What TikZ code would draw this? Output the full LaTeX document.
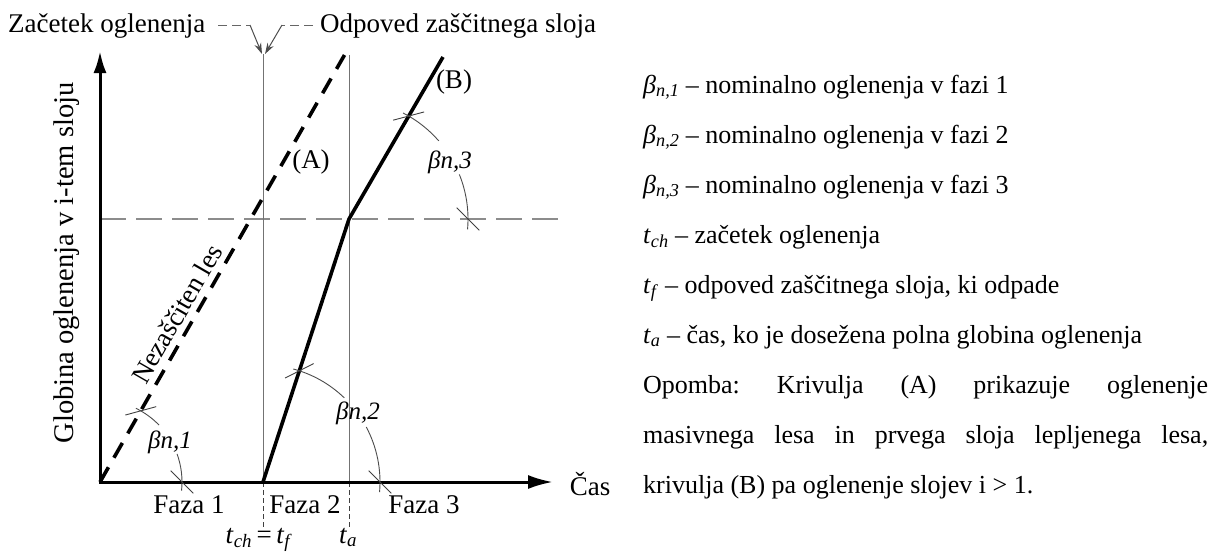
\documentclass[tikz,border=0pt]{standalone}
\usepackage{fontspec}
\setmainfont{Liberation Serif}
\usetikzlibrary{arrows.meta}
\frenchspacing
\newcommand{\tickat}[2]{\draw[tk] ([shift={(#2:16)}]#1) -- ([shift={(#2+180:16)}]#1);}
\begin{document}
\begin{tikzpicture}[x=1pt,y=-1pt,
  lbl/.style={font=\fontsize{27}{32}\selectfont, inner sep=0pt},
  ylbl/.style={font=\fontsize{28.5}{33}\selectfont, inner sep=0pt},
  albl/.style={font=\fontsize{25}{30}\selectfont\itshape, inner sep=1pt},
  leg/.style={font=\fontsize{26}{31}\selectfont, inner sep=0pt},
  axisline/.style={line width=3pt, black},
  bline/.style={line width=3.6pt, black, line join=round},
  aline/.style={line width=3.6pt, black, dash pattern=on 17pt off 11pt},
  thinl/.style={line width=1pt, black!55},
  hdash/.style={line width=1.3pt, black!45, dash pattern=on 26pt off 10pt},
  vdash/.style={line width=0.9pt, black!75, dash pattern=on 5pt off 3pt},
  ldash/.style={line width=1pt, black!60, dash pattern=on 9pt off 5pt},
  lsolid/.style={line width=1pt, black!70, -{Stealth[length=11pt,width=7pt]}},
  arcl/.style={line width=0.9pt, black!70},
  tk/.style={line width=0.9pt, black!75}]
\useasboundingbox (0,0) rectangle (1211,555);

% key points
\coordinate (O) at (100,482);
\coordinate (Xe) at (553,482);
\coordinate (Ye) at (100,51);
\coordinate (Tf) at (263,482);
\coordinate (Ta) at (349,482);
\coordinate (C) at (349,219);
\coordinate (At) at (344.5,55);
\coordinate (Bt) at (443,57);
\coordinate (TfT) at (263,54);
\coordinate (TaT) at (349,55);
\coordinate (TfB) at (263,528);
\coordinate (TaB) at (349,528);
\coordinate (Hs) at (100,219);
\coordinate (He) at (558,219);
\coordinate (L1) at (218,25);
\coordinate (L2) at (250,25);
\coordinate (R1) at (313,25);
\coordinate (R2) at (282,25);
\coordinate (TfL) at (262,54);
\coordinate (TfR) at (265,54);

% thin reference lines
\draw[hdash] (Hs) -- (He);
\draw[thinl] (TfT) -- (Tf);
\draw[thinl] (TaT) -- (Ta);
\draw[vdash] (Tf) -- (TfB);
\draw[vdash] (Ta) -- (TaB);

% leaders
\draw[ldash] (L1) -- (L2);
\draw[lsolid] (L2) -- (TfL);
\draw[ldash] (R1) -- (R2);
\draw[lsolid] (R2) -- (TfR);

% curves
\draw[aline] (O) -- (At);
\draw[bline] (Tf) -- (C) -- (Bt);

% axes
\draw[axisline, {Latex[length=22pt,width=13pt]}-{Latex[length=25pt,width=14pt]}] (Ye) -- (O) -- (Xe);

% angle arcs
\path (O) ++(-60.2:82) coordinate (a1s);
\path (O) ++(0:82) coordinate (a1e);
\draw[arcl] (O) ++(-64:82) arc[start angle=-64, end angle=-44, radius=82];
\draw[arcl] (O) ++(-20:82) arc[start angle=-20, end angle=6, radius=82];
\tickat{a1s}{-15.2}
\tickat{a1e}{45}

\path (Tf) ++(-71.9:117) coordinate (a2s);
\path (Tf) ++(0:117) coordinate (a2e);
\draw[arcl] (Tf) ++(-75:117) arc[start angle=-75, end angle=-46, radius=117];
\draw[arcl] (Tf) ++(-28:117) arc[start angle=-28, end angle=5, radius=117];
\tickat{a2s}{-26.9}
\tickat{a2e}{45}

\path (C) ++(-59.9:119) coordinate (a3s);
\path (C) ++(0:119) coordinate (a3e);
\draw[arcl] (C) ++(-63:119) arc[start angle=-63, end angle=-41, radius=119];
\draw[arcl] (C) ++(-22:119) arc[start angle=-22, end angle=5, radius=119];
\tickat{a3s}{-14.9}
\tickat{a3e}{45}

% labels in diagram
\node[lbl, anchor=base west] (zac) at (8,32) {Začetek oglenenja};
\node[lbl, anchor=base west] (odp) at (320,32) {Odpoved zaščitnega sloja};
\node[lbl] (lA) at (311,162) {(A)};
\node[lbl] (lB) at (454,82) {(B)};
\node[lbl, rotate=60] (nez) at (177,314) {Nezaščiten les};
\node[ylbl, rotate=90] (ylab) at (67,263) {Globina oglenenja v i-tem sloju};
\node[lbl, anchor=base] (f1) at (189,513) {Faza 1};
\node[lbl, anchor=base] (f2) at (305,513) {Faza 2};
\node[lbl, anchor=base] (f3) at (424,513) {Faza 3};
\node[lbl, anchor=base] (cas) at (590,495) {Čas};
\node[lbl, anchor=base] (tcf) at (259,543) {\textit{t}\textsubscript{\textit{ch}}\,=\,\textit{t}\textsubscript{\textit{f}}};
\node[lbl, anchor=base] (tal) at (348,543) {\textit{t}\textsubscript{\textit{a}}};
\node[albl] (b1) at (170,442) {βn,1};
\node[albl] (b2) at (358,413) {βn,2};
\node[albl] (b3) at (450,162) {βn,3};

% legend
\node[leg, anchor=base west] (g1) at (643,93) {\textit{β}\textsubscript{\textit{n,1}} – nominalno oglenenja v fazi 1};
\node[leg, anchor=base west] (g2) at (643,143) {\textit{β}\textsubscript{\textit{n,2}} – nominalno oglenenja v fazi 2};
\node[leg, anchor=base west] (g3) at (643,193) {\textit{β}\textsubscript{\textit{n,3}} – nominalno oglenenja v fazi 3};
\node[leg, anchor=base west] (g4) at (643,243) {\textit{t}\textsubscript{\textit{ch}} – začetek oglenenja};
\node[leg, anchor=base west] (g5) at (643,293) {\textit{t}\textsubscript{\textit{f}} – odpoved zaščitnega sloja, ki odpade};
\node[leg, anchor=base west] (g6) at (643,343) {\textit{t}\textsubscript{\textit{a}} – čas, ko je dosežena polna globina oglenenja};
\node[leg, anchor=base west] (g7) at (643,393) {\makebox[565pt][s]{Opomba: Krivulja (A) prikazuje oglenenje}};
\node[leg, anchor=base west] (g8) at (643,443) {\makebox[565pt][s]{masivnega lesa in prvega sloja lepljenega lesa,}};
\node[leg, anchor=base west] (g9) at (643,493) {krivulja (B) pa oglenenje slojev i > 1.};
\end{tikzpicture}
\end{document}
